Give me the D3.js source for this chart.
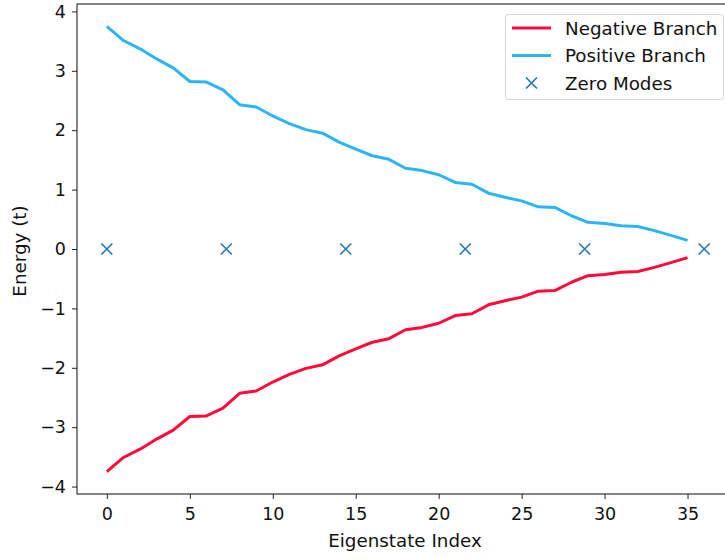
<!DOCTYPE html>
<html lang="en">
<head>
<meta charset="utf-8">
<title>Eigenstate energies</title>
<script src="https://cdn.jsdelivr.net/npm/d3@7/dist/d3.min.js"></script>
<style>
  body { margin: 0; background: #fff; }
  svg { font-family: "DejaVu Sans", sans-serif; }
</style>
</head>
<body>
<svg width="725" height="559"></svg>
<script>
// values
var indices = d3.range(0, 36);
var positiveBranch = [3.75, 3.51, 3.37, 3.20, 3.05, 2.82, 2.81, 2.68, 2.43, 2.39,
                      2.24, 2.11, 2.01, 1.95, 1.80, 1.68, 1.57, 1.51, 1.36, 1.32,
                      1.25, 1.12, 1.09, 0.94, 0.87, 0.81, 0.71, 0.70, 0.56, 0.45,
                      0.43, 0.39, 0.38, 0.31, 0.23, 0.145];
var negativeBranch = [-3.75, -3.51, -3.37, -3.20, -3.05, -2.82, -2.81, -2.68, -2.43, -2.39,
                      -2.24, -2.11, -2.01, -1.95, -1.80, -1.68, -1.57, -1.51, -1.36, -1.32,
                      -1.25, -1.12, -1.09, -0.94, -0.87, -0.81, -0.71, -0.70, -0.56, -0.45,
                      -0.43, -0.39, -0.38, -0.31, -0.23, -0.145];
var zeroModeX = [0, 7.2, 14.4, 21.6, 28.8, 36];
var zeroModeY = [0, 0, 0, 0, 0, 0];
var xTicks = [0, 5, 10, 15, 20, 25, 30, 35];
var yTicks = [-4, -3, -2, -1, 0, 1, 2, 3, 4];

var svg = d3.select("svg");
var mLeft = 77, mTop = 4, mRight = 734, mBottom = 494;

var x = d3.scaleLinear().domain([-1.8, 37.8]).range([mLeft, mRight]);
var y = d3.scaleLinear().domain([-4.125, 4.125]).range([mBottom, mTop]);

var red = "#ff0a3a", blue = "#2bb5f5", cross = "#1f77b4";
var fs = "17.5px", fsLabel = "18.3px";

var line = d3.line()
    .x(function(d) { return x(d[0]); })
    .y(function(d) { return y(d[1]); });

svg.append("path")
   .datum(indices.map(function(i) { return [i, negativeBranch[i]]; }))
   .attr("d", line).attr("fill", "none")
   .attr("stroke", red).attr("stroke-width", 3).attr("stroke-linejoin", "round");

svg.append("path")
   .datum(indices.map(function(i) { return [i, positiveBranch[i]]; }))
   .attr("d", line).attr("fill", "none")
   .attr("stroke", blue).attr("stroke-width", 3).attr("stroke-linejoin", "round");

var s = 5.5;
var crosses = svg.append("g");
zeroModeX.forEach(function(v, i) {
    var cx = x(v), cy = y(zeroModeY[i]);
    crosses.append("path")
      .attr("d", "M" + (cx - s) + "," + (cy - s) + "L" + (cx + s) + "," + (cy + s) +
                 "M" + (cx - s) + "," + (cy + s) + "L" + (cx + s) + "," + (cy - s))
      .attr("stroke", cross).attr("stroke-width", 1.6).attr("fill", "none");
});

// axes
var gx = svg.append("g").attr("transform", "translate(0," + mBottom + ")")
    .call(d3.axisBottom(x).tickValues(xTicks).tickSizeOuter(0).tickSize(5).tickPadding(6));
var gy = svg.append("g").attr("transform", "translate(" + mLeft + ",0)")
    .call(d3.axisLeft(y).tickValues(yTicks).tickSizeOuter(0).tickSize(5).tickPadding(6)
          .tickFormat(function(d) { return d < 0 ? "\u2212" + Math.abs(d) : d; }));
[gx, gy].forEach(function(g) {
    g.selectAll("text").style("font-size", fs).attr("fill", "#111")
     .style("font-family", "DejaVu Sans");
    g.selectAll("line").attr("stroke", "#222").attr("stroke-width", 1);
    g.select(".domain").remove();
});
gx.selectAll("text").attr("dy", "0.85em");

svg.append("rect")
   .attr("x", mLeft).attr("y", mTop).attr("width", mRight - mLeft).attr("height", mBottom - mTop)
   .attr("fill", "none").attr("stroke", "#222").attr("stroke-width", 1.1);

svg.append("text")
   .attr("x", 405).attr("y", 547)
   .attr("text-anchor", "middle").style("font-size", fsLabel).attr("fill", "#111")
   .text("Eigenstate Index");

svg.append("text")
   .attr("transform", "translate(26,251) rotate(-90)")
   .attr("text-anchor", "middle").style("font-size", fsLabel).attr("fill", "#111")
   .text("Energy (t)");

// legend
var lg = svg.append("g");
lg.append("rect").attr("x", 505.5).attr("y", 14.5).attr("width", 218).attr("height", 85)
  .attr("rx", 3).attr("fill", "#fff").attr("fill-opacity", 0.8)
  .attr("stroke", "#d6d6d6").attr("stroke-width", 1);
var entries = [
  { label: "Negative Branch", color: red, kind: "line" },
  { label: "Positive Branch", color: blue, kind: "line" },
  { label: "Zero Modes", color: cross, kind: "cross" }
];
entries.forEach(function(e, i) {
    var ly = 28 + i * 27.5;
    if (e.kind === "line") {
        lg.append("line").attr("x1", 512).attr("x2", 551).attr("y1", ly).attr("y2", ly)
          .attr("stroke", e.color).attr("stroke-width", 3);
    } else {
        var cx = 531.5;
        lg.append("path")
          .attr("d", "M" + (cx - s) + "," + (ly - s) + "L" + (cx + s) + "," + (ly + s) +
                     "M" + (cx - s) + "," + (ly + s) + "L" + (cx + s) + "," + (ly - s))
          .attr("stroke", e.color).attr("stroke-width", 1.6);
    }
    lg.append("text").attr("x", 565).attr("y", ly + 6.5)
      .style("font-size", fsLabel).attr("fill", "#111").text(e.label);
});
</script>
</body>
</html>
